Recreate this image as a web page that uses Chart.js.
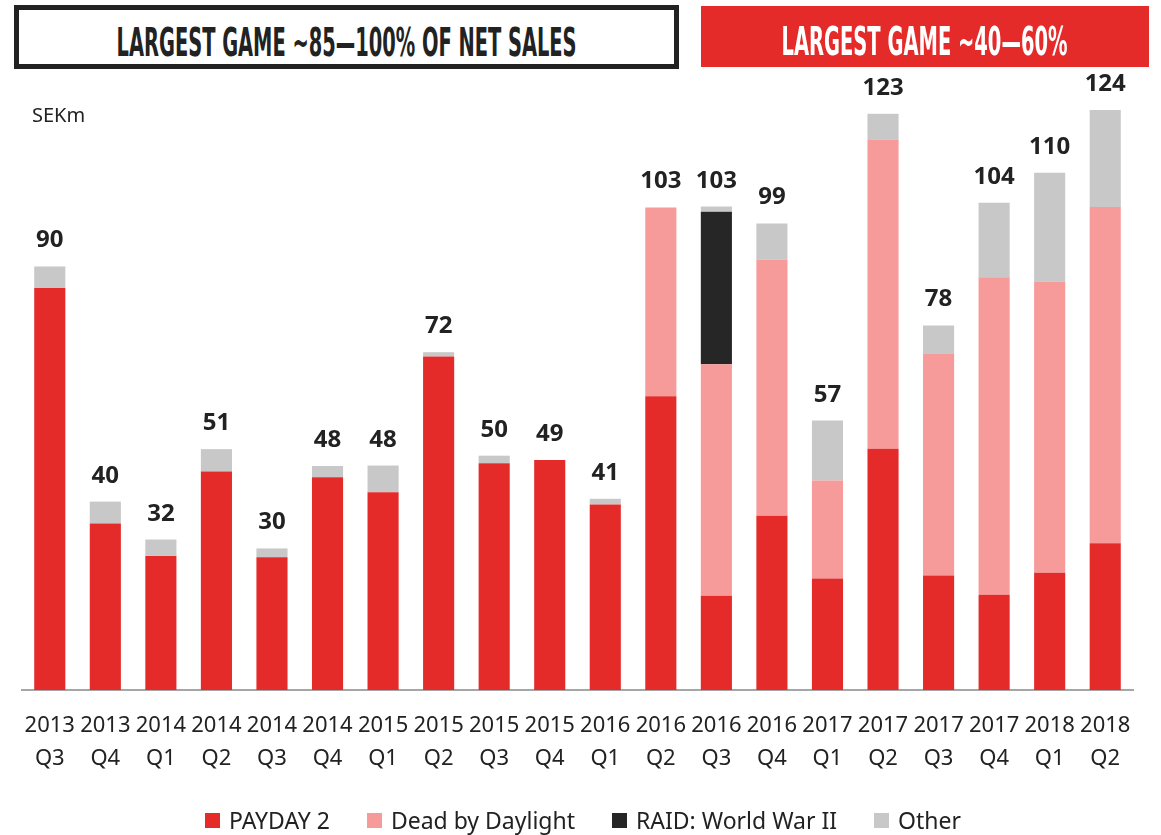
<!DOCTYPE html>
<html>
<head>
<meta charset="utf-8">
<script src="https://cdn.jsdelivr.net/npm/chart.js@4/dist/chart.umd.min.js"></script>
<style>
  html, body { margin: 0; padding: 0; background: #fff; }
  #wrap { position: relative; width: 1161px; height: 835px; overflow: hidden; }
  canvas { position: absolute; left: 0; top: 0; }
  .hdr { position: absolute; box-sizing: border-box; display: flex; align-items: center; justify-content: center; overflow: hidden; }
  .hdr span { display: inline-block; font-family: "Liberation Sans Narrow", "DejaVu Sans Condensed", sans-serif; font-weight: bold; font-size: 39px; line-height: 1; white-space: nowrap; transform-origin: center center; position: relative; top: 5px; }
  #h1 { left: 14px; top: 5px; width: 665px; height: 64px; border: 5px solid #222; background: #fff; color: #222; }
  #h2 { left: 701px; top: 6px; width: 448px; height: 61px; background: #e52a2a; color: #fff; }
  #unit { position: absolute; left: 32px; top: 101px; font-family: "Noto Sans", sans-serif; font-size: 20px; color: #222; }
  #legend { position: absolute; left: 0; width: 1166px; top: 805px; height: 30px; display: flex; justify-content: center; align-items: center; gap: 37px; font-family: "Noto Sans", sans-serif; font-size: 23px; color: #222; }
  #legend .it { display: flex; align-items: center; white-space: nowrap; }
  #legend .sw { display: inline-block; width: 15px; height: 15px; margin-right: 9px; }
</style>
</head>
<body>
<div id="wrap">
  <canvas id="c" width="1161" height="835"></canvas>
  <div class="hdr" id="h1"><span data-w="460">LARGEST GAME ~85—100% OF NET SALES</span></div>
  <div class="hdr" id="h2"><span data-w="286">LARGEST GAME ~40—60%</span></div>
  <div id="unit">SEKm</div>
  <div id="legend"></div>
</div>
<script>
const years    = ["2013","2013","2014","2014","2014","2014","2015","2015","2015","2015","2016","2016","2016","2016","2017","2017","2017","2017","2018","2018"];
const quarters = ["Q3","Q4","Q1","Q2","Q3","Q4","Q1","Q2","Q3","Q4","Q1","Q2","Q3","Q4","Q1","Q2","Q3","Q4","Q1","Q2"];
const payday2  = [85.8, 35.5, 28.6, 46.6, 28.3, 45.4, 42.2, 71.2, 48.4, 49.1, 39.6, 62.7, 20.1, 37.2, 23.8, 51.5, 24.4, 20.3, 25.0, 31.3];
const deadByDaylight = [0, 0, 0, 0, 0, 0, 0, 0, 0, 0, 0, 40.3, 49.4, 54.7, 20.9, 66.0, 47.4, 67.8, 62.2, 71.8];
const raidWW2  = [0, 0, 0, 0, 0, 0, 0, 0, 0, 0, 0, 0, 32.6, 0, 0, 0, 0, 0, 0, 0];
const other    = [4.6, 4.7, 3.5, 4.8, 1.9, 2.4, 5.7, 0.9, 1.6, 0, 1.2, 0, 1.1, 7.7, 12.8, 5.5, 6.0, 15.9, 23.2, 20.7];
const totalLabels = [90, 40, 32, 51, 30, 48, 48, 72, 50, 49, 41, 103, 103, 99, 57, 123, 78, 104, 110, 124];
const seriesNames = ["PAYDAY 2", "Dead by Daylight", "RAID: World War II", "Other"];
const seriesColors = ["#e52a2a", "#f79a9a", "#262626", "#c8c8c8"];

const labels = years.map((y, i) => [y, quarters[i]]);

// fit header texts
document.querySelectorAll('.hdr span').forEach(s => {
  const target = +s.dataset.w;
  const w = s.getBoundingClientRect().width;
  s.style.transform = 'scaleX(' + (target / w) + ')';
});

const totalsPlugin = {
  id: 'totals',
  afterDatasetsDraw(chart) {
    const ctx = chart.ctx;
    const xs = chart.scales.x, ys = chart.scales.y;
    ctx.save();
    ctx.font = 'bold 24px "Noto Sans", sans-serif';
    ctx.fillStyle = '#222';
    ctx.textAlign = 'center';
    ctx.textBaseline = 'alphabetic';
    totalLabels.forEach((t, i) => {
      const sum = payday2[i] + deadByDaylight[i] + raidWW2[i] + other[i];
      const x = xs.getPixelForValue(i);
      const y = ys.getPixelForValue(sum);
      ctx.fillText(String(t), x, y - 19);
    });
    ctx.restore();
  }
};

const common = { barPercentage: 0.56, categoryPercentage: 1.0, borderWidth: 0 };
const seriesData = [payday2, deadByDaylight, raidWW2, other];

const chart = new Chart(document.getElementById('c'), {
  type: 'bar',
  data: {
    labels: labels,
    datasets: seriesNames.map((n, k) => Object.assign({ label: n, data: seriesData[k], backgroundColor: seriesColors[k] }, common))
  },
  options: {
    responsive: false,
    animation: false,
    devicePixelRatio: 1,
    layout: { padding: { top: 81, left: 22, right: 28, bottom: 40 } },
    plugins: {
      legend: { display: false },
      tooltip: { enabled: false },
      title: { display: false }
    },
    scales: {
      x: {
        stacked: true,
        grid: { display: false, drawTicks: false },
        border: { display: true, color: '#a6a6a6', width: 2 },
        ticks: {
          color: '#222',
          font: { family: '"Noto Sans", sans-serif', size: 22, lineHeight: 1.48 },
          padding: 20,
          maxRotation: 0,
          autoSkip: false
        }
      },
      y: {
        stacked: true,
        display: false,
        min: 0,
        max: 130
      }
    }
  },
  plugins: [totalsPlugin]
});

// HTML legend built from the chart's datasets
const lg = document.getElementById('legend');
chart.data.datasets.forEach(ds => {
  const it = document.createElement('div'); it.className = 'it';
  const sw = document.createElement('span'); sw.className = 'sw'; sw.style.background = ds.backgroundColor;
  const tx = document.createElement('span'); tx.textContent = ds.label;
  it.appendChild(sw); it.appendChild(tx); lg.appendChild(it);
});
</script>
</body>
</html>
